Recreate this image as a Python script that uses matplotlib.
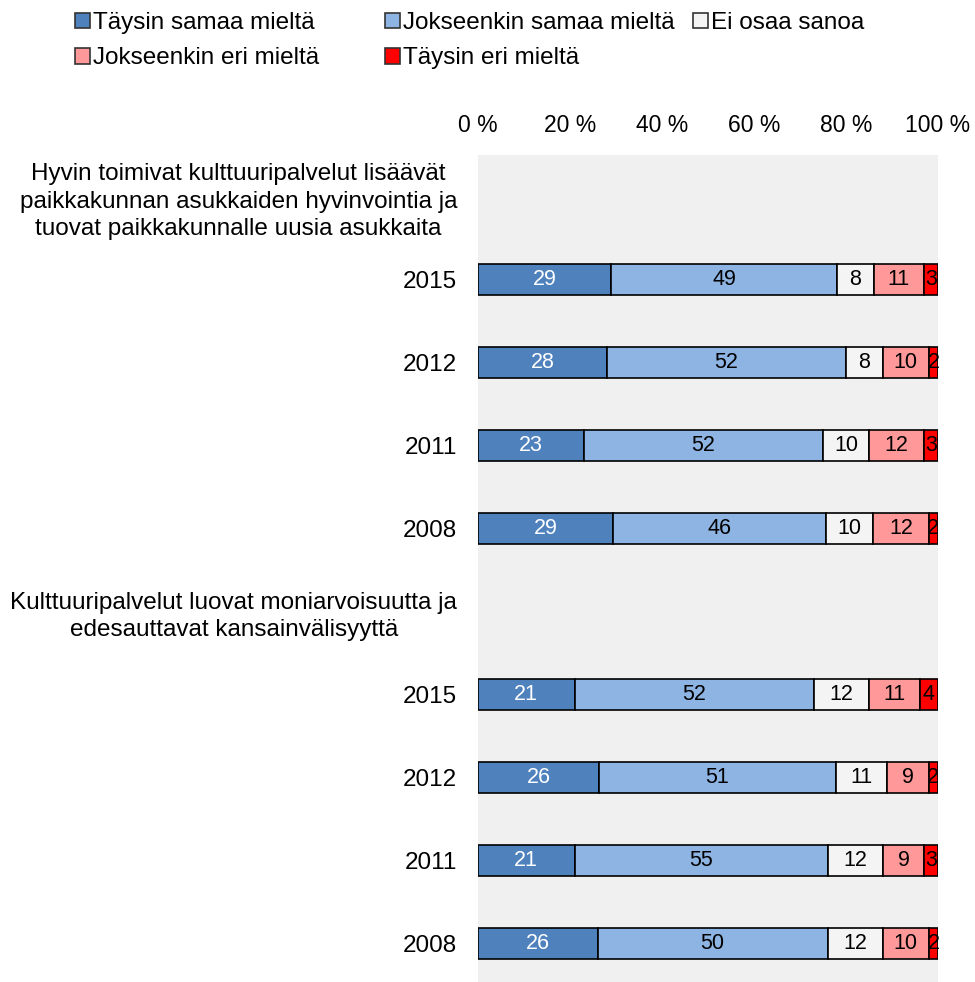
import numpy as np
import matplotlib
matplotlib.use('Agg')
import matplotlib.pyplot as plt
from matplotlib.patches import Patch

plt.rcParams['font.family'] = ['Liberation Sans', 'DejaVu Sans']

# data
series = ['Täysin samaa mieltä', 'Jokseenkin samaa mieltä', 'Ei osaa sanoa',
          'Jokseenkin eri mieltä', 'Täysin eri mieltä']
colors = ['#4F81BD', '#8EB4E3', '#F4F4F4', '#FF9999', '#FF0000']
label_colors = ['white', 'black', 'black', 'black', 'black']

q1_title = 'Hyvin toimivat kulttuuripalvelut lisäävät\npaikkakunnan asukkaiden hyvinvointia ja\ntuovat paikkakunnalle uusia asukkaita'
q2_title = 'Kulttuuripalvelut luovat moniarvoisuutta ja\nedesauttavat kansainvälisyyttä'
years = ['2015', '2012', '2011', '2008']

q1_taysin_samaa = [29, 28, 23, 29]
q1_jokseenkin_samaa = [49, 52, 52, 46]
q1_ei_osaa = [8, 8, 10, 10]
q1_jokseenkin_eri = [11, 10, 12, 12]
q1_taysin_eri = [3, 2, 3, 2]

q2_taysin_samaa = [21, 26, 21, 26]
q2_jokseenkin_samaa = [52, 51, 55, 50]
q2_ei_osaa = [12, 11, 12, 12]
q2_jokseenkin_eri = [11, 9, 9, 10]
q2_taysin_eri = [4, 2, 3, 2]

xticks = [0, 20, 40, 60, 80, 100]

# rows: header, 4 years, header, 4 years
row_labels = [q1_title] + years + [q2_title] + years
q1 = np.array([q1_taysin_samaa, q1_jokseenkin_samaa, q1_ei_osaa, q1_jokseenkin_eri, q1_taysin_eri]).T
q2 = np.array([q2_taysin_samaa, q2_jokseenkin_samaa, q2_ei_osaa, q2_jokseenkin_eri, q2_taysin_eri]).T
bar_rows = [1, 2, 3, 4, 6, 7, 8, 9]
values = np.vstack([q1, q2]).astype(float)

W, H = 975, 982
fig = plt.figure(figsize=(W / 100, H / 100), dpi=100)
ax = fig.add_axes([478 / W, (H - 985) / H, 460 / W, (985 - 155) / H])
ax.set_facecolor('#F0F0F0')

for r, vals in zip(bar_rows, values):
    widths = vals / vals.sum() * 100   # stretch to full 100 %
    left = 0
    for i, (w, v) in enumerate(zip(widths, vals)):
        ax.barh(r, w, left=left, height=0.38, color=colors[i],
                edgecolor='black', linewidth=1.2, zorder=2)
        ax.text(left + w / 2, r, '%d' % v, ha='center', va='center',
                color=label_colors[i], fontsize=15.5, zorder=3)
        left += w

ax.set_xlim(0, 100)
ax.set_ylim(9.5, -0.5)
ax.xaxis.tick_top()
ax.set_xticks(xticks)
ax.set_xticklabels(['%d %%' % t for t in xticks])
ax.set_yticks(range(len(row_labels)))
ax.set_yticklabels(row_labels)
for lbl in ax.get_yticklabels():
    lbl.set_multialignment('center')
    lbl.set_linespacing(1.3)
ax.tick_params(axis='x', length=0, pad=13, labelsize=16.5)
ax.tick_params(axis='y', length=0, pad=15, labelsize=17.5)
for s in ax.spines.values():
    s.set_visible(False)

# legend laid out like the original (row-wise, uneven columns)
handles = [Patch(facecolor=c, edgecolor='#333333', linewidth=1.2) for c in colors]
legend_cols = [([0, 3], 75), ([1, 4], 385), ([2], 693)]
for idx, xpix in legend_cols:
    leg = fig.legend([handles[i] for i in idx], [series[i] for i in idx],
                     loc='upper left', bbox_to_anchor=(xpix / W, 1 - 12 / H),
                     frameon=False, fontsize=17.5, borderpad=0, borderaxespad=0,
                     handlelength=0.6, handleheight=0.6, handletextpad=0.15,
                     labelspacing=0.55)

fig.savefig('out.png', dpi=100)
